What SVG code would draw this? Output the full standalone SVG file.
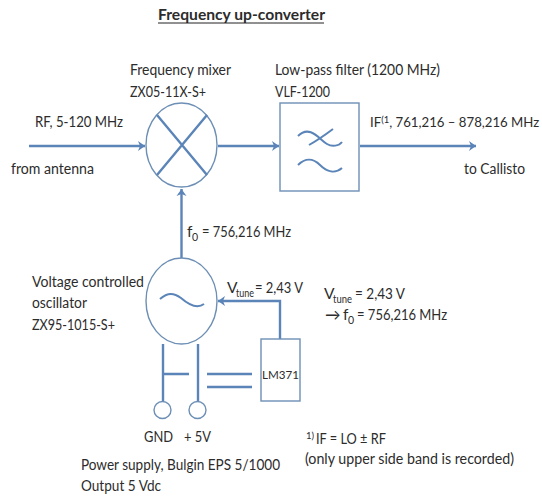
<svg xmlns="http://www.w3.org/2000/svg" width="542" height="497" viewBox="0 0 542 497">
<style>
text{font-family:"Lato","Open Sans",sans-serif;font-size:15.500px;fill:#2c2c2c}
.sh{fill:#fff;stroke:#6d8fb5;stroke-width:1.4}
.ln{fill:none;stroke:#5b85b8;stroke-width:2}
.th{fill:none;stroke:#5b85b8;stroke-width:2.4}
.ar{fill:none;stroke:#5b85b8;stroke-width:2.400;marker-end:url(#a)}
.sub{font-size:10.500px}
.sup{font-size:9.500px}
.if{font-size:13.200px}
</style>
<defs><marker id="a" markerUnits="userSpaceOnUse" markerWidth="10" markerHeight="12" refX="8" refY="6" orient="auto"><path d="M1 1 L8 6 L1 11 L3 6Z" fill="#5b85b8"/></marker></defs>
<rect width="542" height="497" fill="#fff"/>
<text x="158" y="20" style="font-weight:700;font-size:15px" textLength="167" lengthAdjust="spacingAndGlyphs">Frequency up-converter</text>
<path d="M158 23H324" stroke="#222" stroke-width="1"/>
<g id="connectors">
<path class="ar" d="M29 146H145"/>
<path class="ar" d="M218 146H279"/>
<path class="ar" d="M360 146H476"/>
<path class="ar" d="M181.500 258V189"/>
<path class="ar" d="M280 339V301H218"/>
<path class="th" d="M163 344V405M198 344V405M163 374H189M207 374H252M207 387H252"/>
</g>
<g id="mixer"><ellipse class="sh" cx="181.500" cy="145" rx="35.500" ry="42"/><path class="th" d="M157 115L207 175M207 115L157 175"/>
<text x="130" y="75" textLength="101" lengthAdjust="spacingAndGlyphs">Frequency mixer</text><text x="130" y="97" textLength="76" lengthAdjust="spacingAndGlyphs">ZX05-11X-S+</text></g>
<g id="filter"><rect class="sh" x="280" y="103" width="79" height="88"/><path class="ln" d="M298 136C310 124 320 140 327 144C332 147 339 146 342 142M309 145C318 140 325 135 333 129M298 165C305 158 313 158 320 165C327 172 335 174 342 168"/>
<text x="275" y="75" textLength="165" lengthAdjust="spacingAndGlyphs">Low-pass filter (1200 MHz)</text><text x="275" y="97" textLength="55" lengthAdjust="spacingAndGlyphs">VLF-1200</text></g>
<g id="vco"><ellipse class="sh" cx="181.500" cy="301" rx="35.500" ry="43"/><path class="ln" d="M160 299C168 292 174 293 181 298C189 305 197 309 204 304"/>
<text x="32" y="287" textLength="112" lengthAdjust="spacingAndGlyphs">Voltage controlled</text><text x="32" y="308" textLength="55" lengthAdjust="spacingAndGlyphs">oscillator</text><text x="32" y="330" textLength="83" lengthAdjust="spacingAndGlyphs">ZX95-1015-S+</text></g>
<g id="lm371"><rect class="sh" x="261" y="339" width="39" height="62"/><text x="262" y="379" style="font-size:12px" textLength="37" lengthAdjust="spacingAndGlyphs">LM371</text></g>
<g id="gnd"><circle class="sh" cx="162.500" cy="410" r="8.500"/></g>
<g id="plus5v"><circle class="sh" cx="197.500" cy="410" r="8.500"/></g>
<text x="35" y="127" textLength="88" lengthAdjust="spacingAndGlyphs">RF, 5-120 MHz</text>
<text x="11" y="174" textLength="83" lengthAdjust="spacingAndGlyphs">from antenna</text>
<text class="if" x="370" y="127">IF<tspan class="sup" dy="-4">(1</tspan><tspan dy="4">, 761,216 – 878,216 MHz</tspan></text>
<text x="464" y="174" textLength="61" lengthAdjust="spacingAndGlyphs">to Callisto</text>
<text x="187" y="237">f<tspan class="sub" x="192" dy="4">0</tspan><tspan x="202" dy="-4" textLength="89" lengthAdjust="spacingAndGlyphs">= 756,216 MHz</tspan></text>
<text x="227" y="293">V<tspan class="sub" x="236" dy="4" textLength="18" lengthAdjust="spacingAndGlyphs">tune</tspan><tspan x="255" dy="-4" textLength="48" lengthAdjust="spacingAndGlyphs">= 2,43 V</tspan></text>
<text x="324" y="299">V<tspan class="sub" x="333" dy="4" textLength="19" lengthAdjust="spacingAndGlyphs">tune</tspan><tspan x="355" dy="-4" textLength="50" lengthAdjust="spacingAndGlyphs">= 2,43 V</tspan></text>
<text x="325" y="320">→<tspan x="343">f</tspan><tspan class="sub" x="348" dy="4">0</tspan><tspan x="357" dy="-4" textLength="90" lengthAdjust="spacingAndGlyphs">= 756,216 MHz</tspan></text>
<text x="144" y="442" textLength="29" lengthAdjust="spacingAndGlyphs">GND</text>
<text x="184" y="442" textLength="27" lengthAdjust="spacingAndGlyphs">+ 5V</text>
<text x="306" y="444"><tspan class="sup" dy="-5">1)</tspan><tspan x="316" dy="5" textLength="70" lengthAdjust="spacingAndGlyphs">IF = LO ± RF</tspan></text>
<text x="305" y="464" textLength="209" lengthAdjust="spacingAndGlyphs">(only upper side band is recorded)</text>
<text x="81" y="470" textLength="199" lengthAdjust="spacingAndGlyphs">Power supply, Bulgin EPS 5/1000</text>
<text x="81" y="491" textLength="80" lengthAdjust="spacingAndGlyphs">Output 5 Vdc</text>
</svg>
